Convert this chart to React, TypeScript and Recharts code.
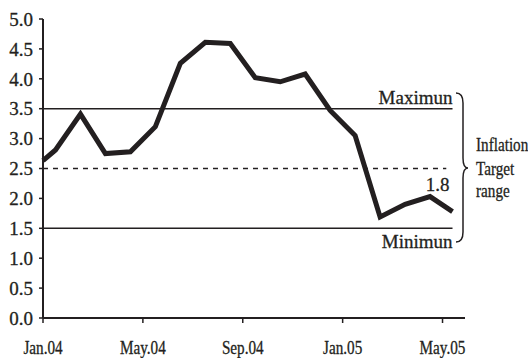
import { LineChart, Line, XAxis, YAxis, ReferenceLine, LabelList } from 'recharts'

// months from Jan.04 (0 = start of Jan.04), points sit mid-month
const monthPos = [0, 0.5, 1.5, 2.5, 3.5, 4.5, 5.5, 6.5, 7.5, 8.5, 9.5, 10.5, 11.5, 12.5, 13.5, 14.5, 15.5, 16.4]
const inflation = [2.63, 2.81, 3.41, 2.75, 2.78, 3.2, 4.26, 4.61, 4.59, 4.02, 3.95, 4.08, 3.47, 3.05, 1.69, 1.9, 2.03, 1.78]

const tickPos = [0, 4, 8, 12, 16]
const tickLabels = ['Jan.04', 'May.04', 'Sep.04', 'Jan.05', 'May.05']
const yTicks = [0, 0.5, 1, 1.5, 2, 2.5, 3, 3.5, 4, 4.5, 5]

const targetMax = 3.5
const targetMid = 2.5
const targetMin = 1.5
const lineEnd = 16.4

const data = monthPos.map((m, i) => ({ m, v: inflation[i] }))

const ink = '#231f20'
const serif = '"Liberation Serif", "Times New Roman", serif'

// condensed serif look for the month labels
function MonthTick(props: any) {
  const { x, y, payload } = props
  return (
    <g transform={`translate(${x},${y})`}>
      <text transform="scale(0.8,1)" textAnchor="middle" dy="0.71em" fill={ink} stroke={ink} strokeWidth={0.3} fontFamily={serif} fontSize={19}>
        {tickLabels[tickPos.indexOf(payload.value)] ?? ''}
      </text>
    </g>
  )
}

export default function App() {
  return (
    <div style={{ position: 'absolute', left: 0, top: 0, width: 528, height: 358, background: '#fff' }}>
      <LineChart width={528} height={358} data={data} margin={{ top: 19, right: 63, bottom: 0, left: 0 }}>
        <XAxis
          dataKey="m"
          type="number"
          domain={[0, 16.9]}
          ticks={tickPos}
          height={40}
          axisLine={{ stroke: ink, strokeWidth: 2 }}
          tickLine={{ stroke: ink, strokeWidth: 1.5 }}
          tickSize={5}
          tickMargin={18}
          tick={<MonthTick />}
        />
        <YAxis
          type="number"
          domain={[0, 5]}
          ticks={yTicks}
          tickFormatter={(v) => v.toFixed(1)}
          width={43}
          axisLine={{ stroke: ink, strokeWidth: 2 }}
          tickLine={{ stroke: ink, strokeWidth: 1.5 }}
          tickSize={4}
          tickMargin={6}
          tick={{ fill: ink, stroke: ink, strokeWidth: 0.3, fontFamily: serif, fontSize: 19 }}
        />
        <ReferenceLine
          segment={[{ x: 0, y: targetMax }, { x: lineEnd, y: targetMax }]}
          stroke={ink}
          strokeWidth={1.5}
          label={(p: any) => (
            <text x={p.viewBox.x + p.viewBox.width} y={p.viewBox.y - 5} textAnchor="end" fill={ink} stroke={ink} strokeWidth={0.3} fontFamily={serif} fontSize={19}>
              Maximun
            </text>
          )}
        />
        <ReferenceLine
          segment={[{ x: 0, y: targetMid }, { x: lineEnd - 0.25, y: targetMid }]}
          stroke={ink}
          strokeWidth={1.5}
          strokeDasharray="5 5"
        />
        <ReferenceLine
          segment={[{ x: 0, y: targetMin }, { x: lineEnd, y: targetMin }]}
          stroke={ink}
          strokeWidth={1.5}
          label={(p: any) => (
            <text x={p.viewBox.x + p.viewBox.width} y={p.viewBox.y + 20} textAnchor="end" fill={ink} stroke={ink} strokeWidth={0.3} fontFamily={serif} fontSize={19}>
              Minimun
            </text>
          )}
        />
        <Line type="linear" dataKey="v" stroke={ink} strokeWidth={5} dot={false} isAnimationActive={false}>
          <LabelList
            dataKey="v"
            content={(p: any) =>
              p.index === inflation.length - 1 ? (
                <text x={p.x - 3} y={p.y - 21} textAnchor="end" fill={ink} stroke={ink} strokeWidth={0.3} fontFamily={serif} fontSize={19}>
                  {Number(p.value).toFixed(1)}
                </text>
              ) : null
            }
          />
        </Line>
      </LineChart>
      <svg width={528} height={358} style={{ position: 'absolute', left: 0, top: 0, pointerEvents: 'none' }}>
        <path
          d="M456,93 Q463,93 463,103 L463,158 Q463,168 468,168 Q463,168 463,178 L463,232 Q463,242 456,242"
          fill="none"
          stroke={ink}
          strokeWidth={1.5}
        />
        <g fill={ink} stroke={ink} strokeWidth={0.3} fontFamily={serif} fontSize={19} transform="translate(476,0) scale(0.8,1)">
          <text x={0} y={151}>Inflation</text>
          <text x={0} y={175}>Target</text>
          <text x={0} y={197}>range</text>
        </g>
      </svg>
    </div>
  )
}
